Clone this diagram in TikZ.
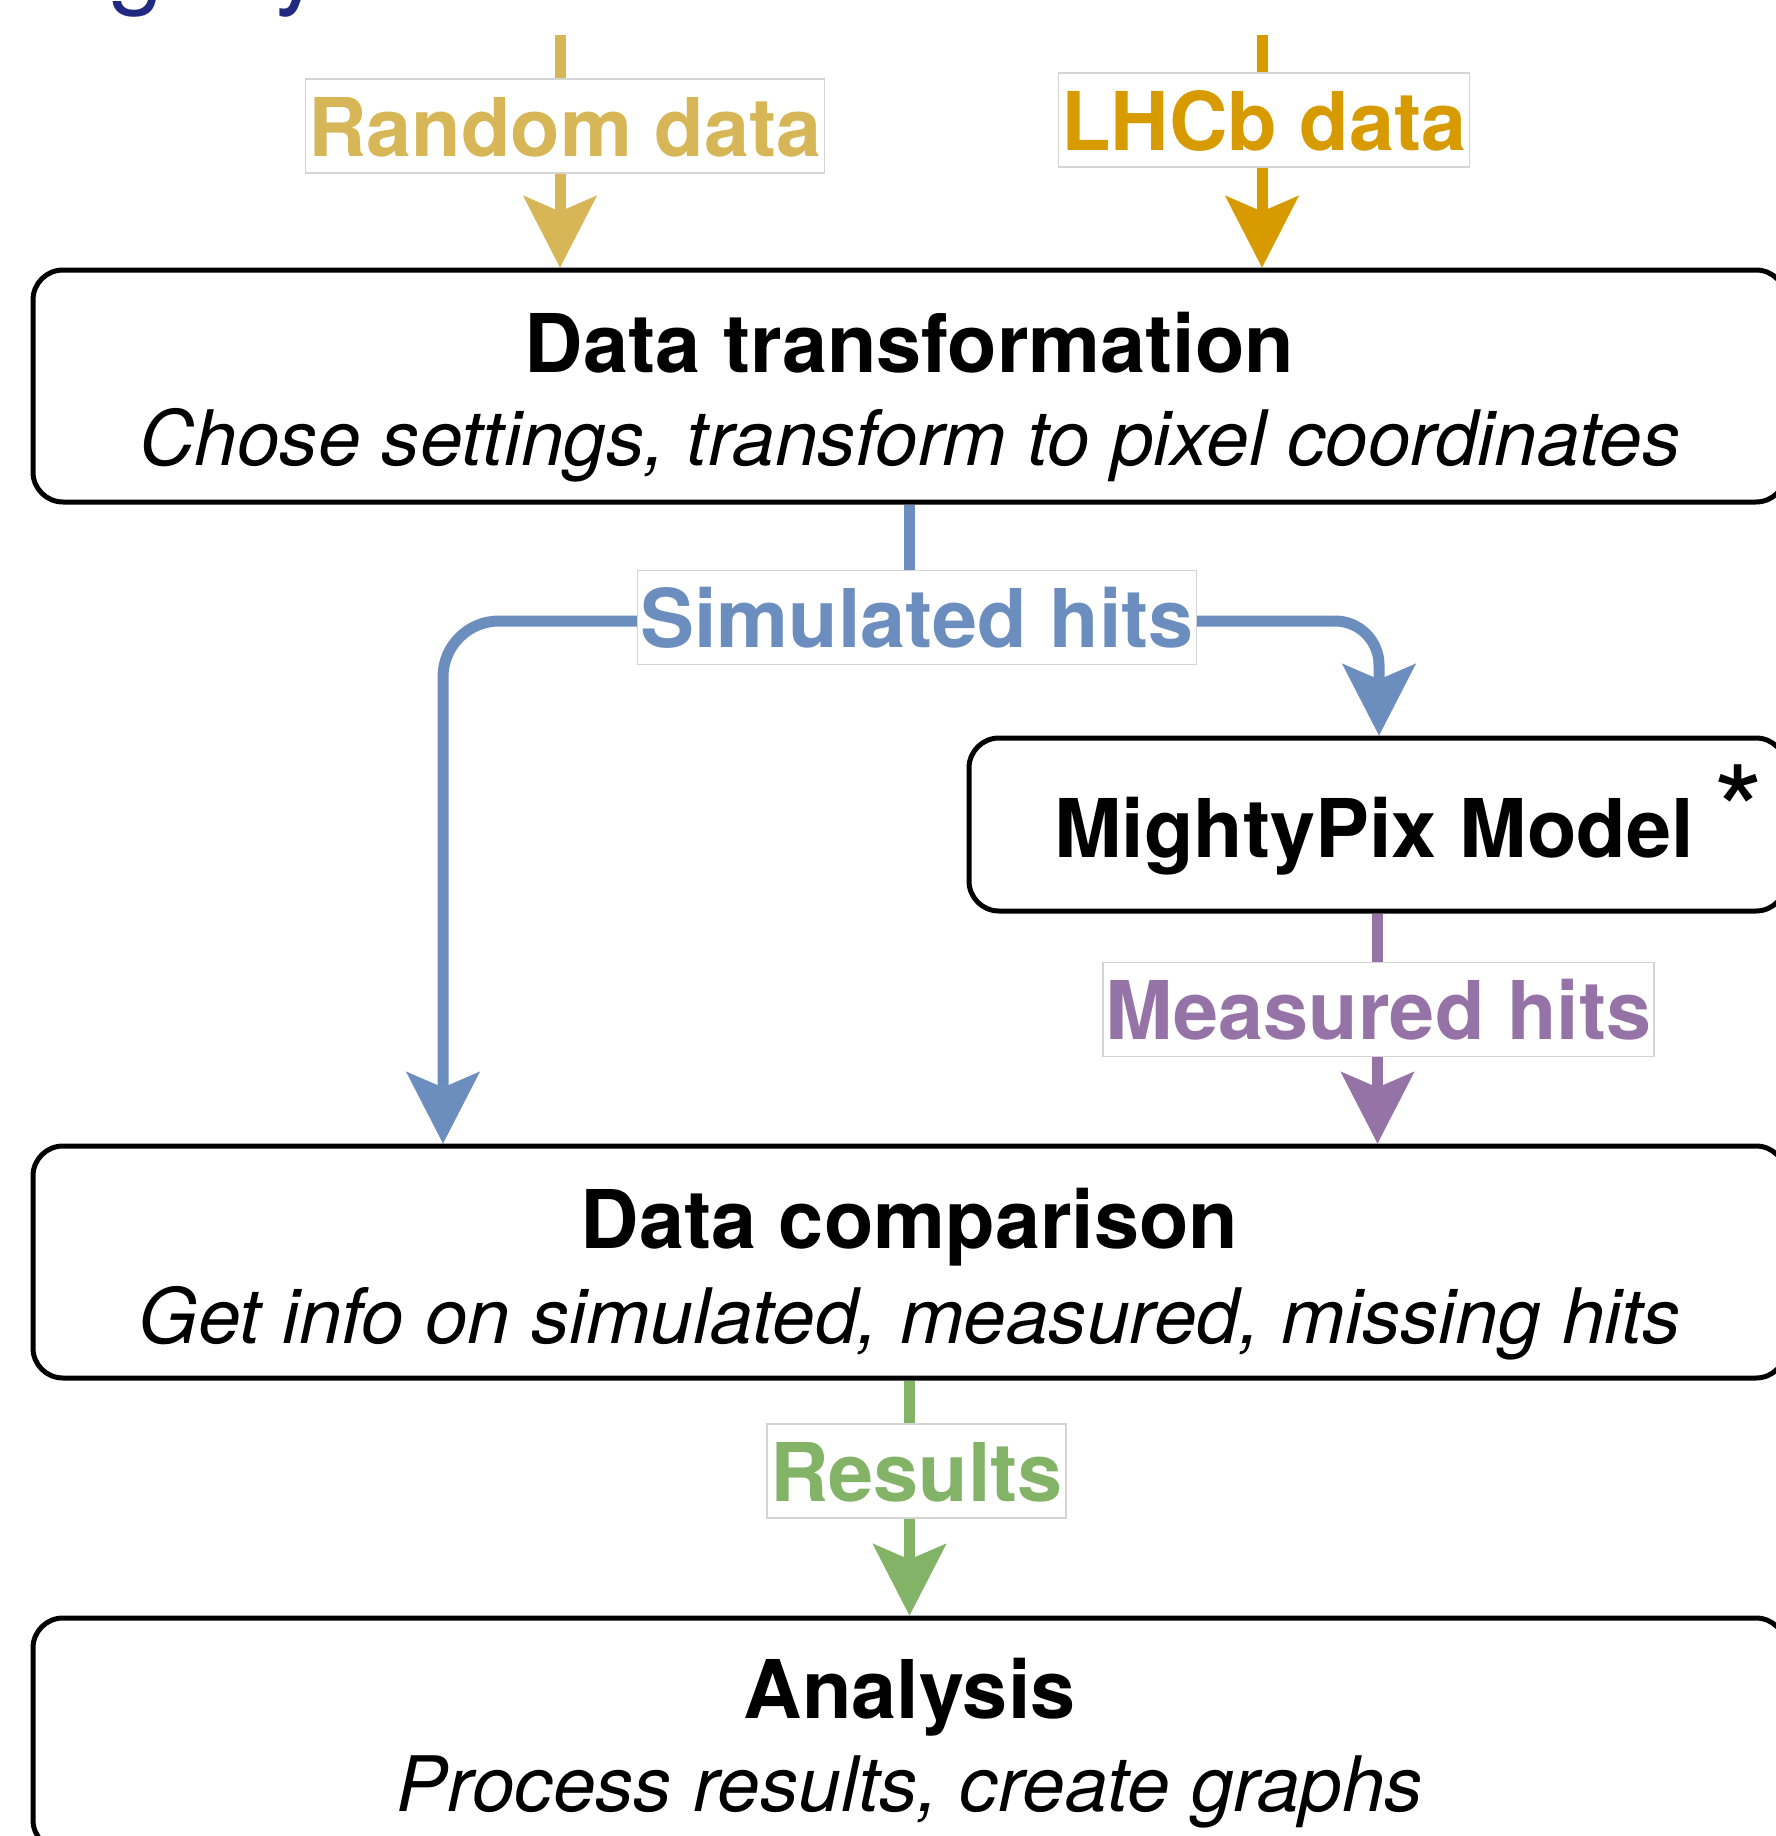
\documentclass[tikz,border=0pt]{standalone}
\usepackage{fontspec}
\setmainfont{TeX Gyre Heros}
\usetikzlibrary{arrows.meta,backgrounds}
\definecolor{navy}{RGB}{33,42,128}
\definecolor{cyel}{HTML}{D6B656}
\definecolor{corg}{HTML}{D79B00}
\definecolor{cblu}{HTML}{6C8EBF}
\definecolor{cpur}{HTML}{9673A6}
\definecolor{cgrn}{HTML}{82B366}
\definecolor{lblframe}{HTML}{D4D4D4}

\begin{document}
\begin{tikzpicture}[x=1pt,y=-1pt,
  stage/.style={draw=black, line width=5pt, rounded corners=30pt, fill=white, inner sep=0pt},
  headtxt/.style={font=\fontsize{81}{97}\selectfont\bfseries, anchor=base, inner sep=0pt},
  subtxt/.style={font=\fontsize{76.5}{91}\selectfont\itshape, anchor=base, inner sep=0pt},
  flowlbl/.style={draw=lblframe, line width=1.5pt, fill=white,
    font=\fontsize{81}{97}\selectfont\bfseries, inner xsep=3pt, inner ysep=0pt,
    text height=77pt, text depth=17pt},
  flow/.style={line width=11pt, -{Stealth[length=72pt,width=74pt,inset=16pt,line width=0.5pt]}},
  flowline/.style={line width=11pt},
]
\useasboundingbox (0,0) rectangle (1776,1836);

% slide title (runs off the top edge)
\node[anchor=base west, inner sep=0pt, text=navy, font=\fontsize{100}{120}\selectfont] (title) at (3,-4)
  {Mig\kern9pt h\kern9pt t\kern9pt yPix};

% processing stages
\node[stage, minimum width=1753pt, minimum height=232pt] (DT) at (909.5,386) {};
\node[headtxt] (DTh) at (909.5,372) {Data transformation};
\node[subtxt] (DTs) at (910,465) {Chose settings, transform to pixel coordinates};

\node[stage, minimum width=817pt, minimum height=173pt] (MP) at (1377.5,824.5) {};
\node[headtxt] (MPh) at (1374,857) {MightyPix Model};
\node[font=\fontsize{130}{130}\selectfont, anchor=base, inner sep=0pt] (MPstar) at (1739,859) {*};

\node[stage, minimum width=1753pt, minimum height=232pt] (DC) at (909.5,1262) {};
\node[headtxt] (DCh) at (909.5,1248) {Data comparison};
\node[subtxt] (DCs) at (910,1343) {Get info on simulated, measured, missing hits};

\node[stage, minimum width=1753pt, minimum height=232pt] (AN) at (909.5,1734) {};
\node[headtxt] (ANh) at (909.5,1718) {Analysis};
\node[subtxt] (ANs) at (910,1811) {Process results, create graphs};

% data-flow labels
\node[flowlbl, text=cyel] (rnd) at (565,126) {Random data};
\node[flowlbl, text=corg] (lhcb) at (1264,120) {LHCb data};
\node[flowlbl, text=cblu] (sim) at (917,617.5) {Simulated hits};
\node[flowlbl, text=cpur] (meas) at (1378.5,1009.5) {Measured hits};
\node[flowlbl, text=cgrn] (res) at (916.5,1471) {Results};

% connectors, kept underneath the labels
\coordinate (rtop) at (560,35);
\coordinate (ltop) at (1262,35);
\coordinate (simL) at (443,621);
\coordinate (simR) at (1379,621);
\begin{scope}[on background layer]
  \draw[flow, cyel] (rtop) -- (rtop |- DT.north);
  \draw[flow, corg] (ltop) -- (ltop |- DT.north);
  \draw[flowline, cblu] (DT.south) -- (DT.south |- sim.center);
  \draw[flow, cblu, rounded corners=56pt] (sim.center |- simL) -- (simL) -- (simL |- DC.north);
  \draw[flow, cblu, rounded corners=44pt] (sim.center |- simR) -- (simR) -- (simR |- MP.north);
  \draw[flow, cpur] (MP.south) -- (MP.south |- DC.north);
  \draw[flow, cgrn] (DC.south) -- (AN.north);
\end{scope}
\end{tikzpicture}
\end{document}
